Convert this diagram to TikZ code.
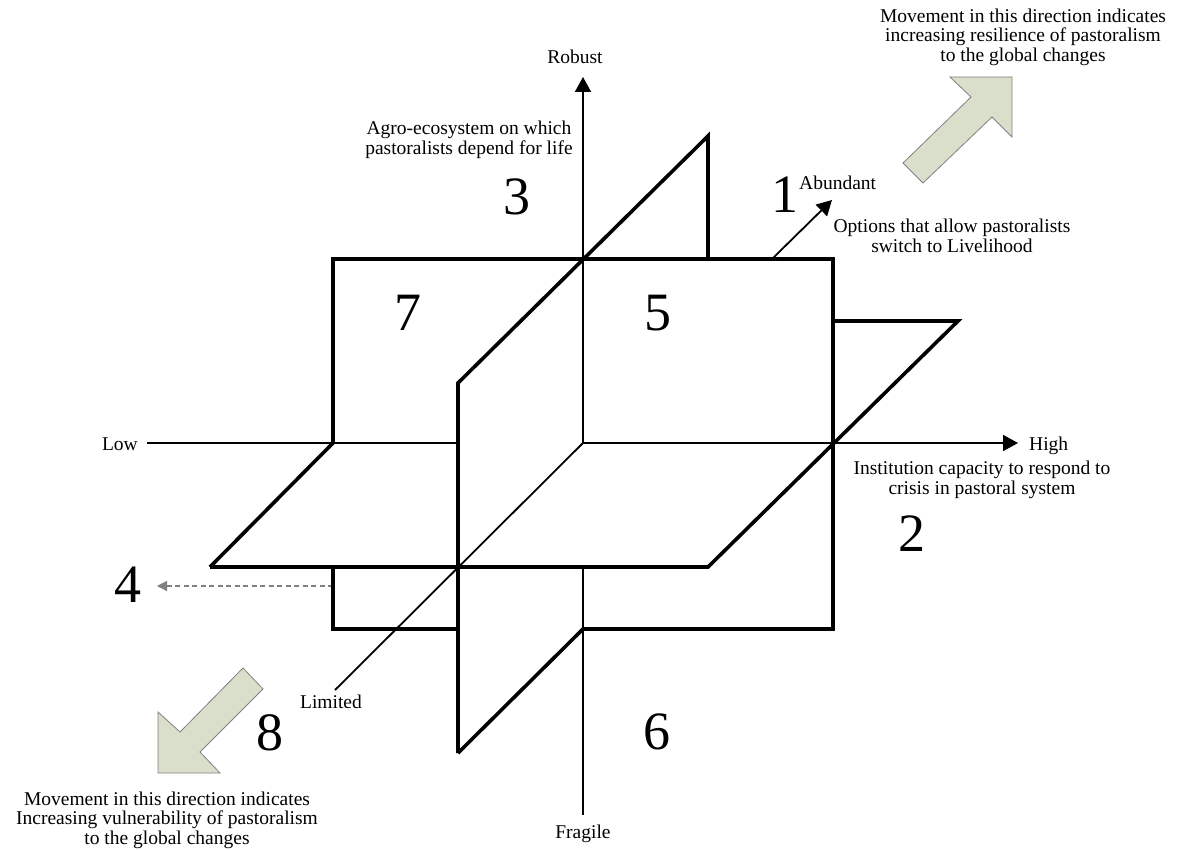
\documentclass[tikz,border=0pt]{standalone}
\usepackage{fontspec}
\setmainfont{Liberation Serif}
\usetikzlibrary{arrows.meta}
\definecolor{arrowfill}{HTML}{DADFCB}
\definecolor{arrowline}{HTML}{808080}
\begin{document}
\begin{tikzpicture}[x=1pt,y=-1pt,
  plane/.style={line width=3.6pt, line join=miter},
  axis/.style={line width=1.8pt},
  axisarrow/.style={-{Triangle[width=16pt,length=15pt]}},
  lbl/.style={font=\fontsize{19.5}{19.5}\selectfont, inner sep=0pt, align=center},
  num/.style={font=\fontsize{54}{54}\selectfont, inner sep=0pt},
  blockarrow/.style={fill=arrowfill, draw=arrowline, line width=0.8pt, line join=miter}]
\useasboundingbox (0,0) rectangle (1177,850);

% key points of the three planes
\coordinate (C)  at (583,443);
\coordinate (A1) at (333,259);
\coordinate (A2) at (833,259);
\coordinate (A3) at (833,629);
\coordinate (A4) at (333,629);
\coordinate (H1) at (210,567);
\coordinate (H2) at (708,567);
\coordinate (H3) at (958,321);
\coordinate (S1) at (458,383);
\coordinate (S2) at (708,136);
\coordinate (S4) at (458,753);

% axis ends
\coordinate (lowend)  at (147,443);
\coordinate (highend) at (1018,443);
\coordinate (topend)  at (583,77);
\coordinate (botend)  at (583,815);
\coordinate (limend)  at (335,690);
\coordinate (abuS)    at (772,259);
\coordinate (abuE)    at (832,200);

% thin axes
\draw[axis] (lowend) -- (458,443);
\draw[axis,axisarrow] (C) -- (highend);
\draw[axis,axisarrow] (C) -- (topend);
\draw[axis] (583,567) -- (botend);
\draw[axis] (C) -- (limend);
\draw[axis,axisarrow] (abuS) -- (abuE);

% dashed pointer to region 4
\coordinate (dashS) at (333,586);
\coordinate (dashE) at (157,586);
\draw[arrowline, line width=1.2pt, dash pattern=on 5pt off 3.5pt,
      -{Triangle[width=10pt,length=10pt]}] (dashS) -- (dashE);

% vertical (front) plane
\draw[plane] (333,443) -- (A1) -- (A2) -- (A3) -- (583,629);
\draw[plane] (458,629) -- (A4) -- (333,567);
% horizontal plane
\draw[plane] (H1) -- (H2) -- (H3) -- (833,321);
\draw[plane] (H1) -- (333,443);
% sagittal plane
\draw[plane] (S4) -- (S1) -- (S2) -- (708,259);
\draw[plane] (S4) -- (583,629);

% block arrows
\draw[blockarrow] (1012,77) -- (1012,137) -- (992,117) -- (923,183) -- (903,163) -- (971,97) -- (950,77) -- cycle;
\draw[blockarrow] (158,773) -- (158,712) -- (180,732) -- (243,668) -- (263,689) -- (200,752) -- (220,773) -- cycle;

% axis labels
\node[lbl, anchor=base] (robust) at (575,64) {Robust};
\node[lbl, anchor=base] (fragile) at (583,838) {Fragile};
\node[lbl, anchor=base east] (low) at (138,450) {Low};
\node[lbl, anchor=base west] (high) at (1029,450) {High};
\node[lbl, anchor=base west] (abundant) at (799,190) {Abundant};
\node[lbl, anchor=base] (limited) at (331,708) {Limited};

% descriptions
\node[lbl] (agro) at (469,140) {Agro-ecosystem on which\\pastoralists depend for life};
\node[lbl] (options) at (952,236) {Options that allow pastoralists\\switch to Livelihood};
\node[lbl] (inst) at (982,480) {Institution capacity to respond to\\crisis in pastoral system};
\node[lbl] (resil) at (1023,37) {Movement in this direction indicates\\increasing resilience of pastoralism\\to the global changes};
\node[lbl] (vuln) at (167,820) {Movement in this direction indicates\\Increasing vulnerability of pastoralism\\to the global changes};

% region numbers
\node[num] (n1) at (785,195) {1};
\node[num] (n2) at (912,534) {2};
\node[num] (n3) at (517,197) {3};
\node[num] (n4) at (128,585) {4};
\node[num] (n5) at (658,313) {5};
\node[num] (n6) at (657,732) {6};
\node[num] (n7) at (408,313) {7};
\node[num] (n8) at (270,733) {8};
\end{tikzpicture}
\end{document}
